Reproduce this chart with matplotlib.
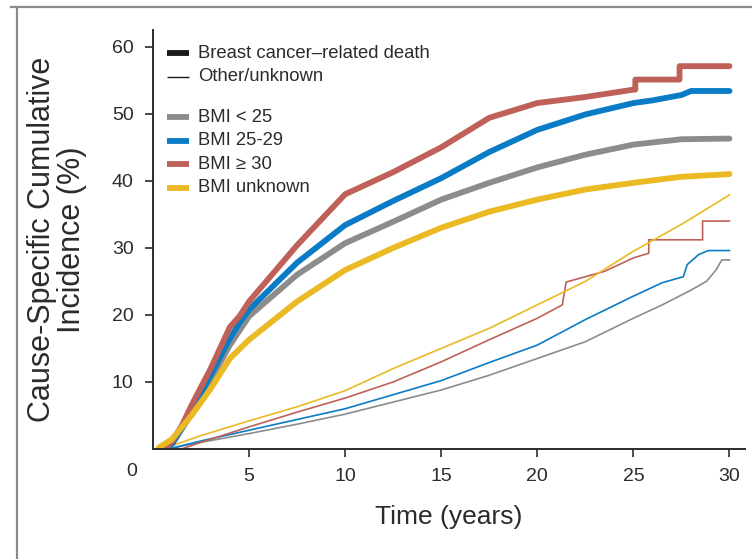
import matplotlib
matplotlib.use("Agg")
import matplotlib.pyplot as plt
from matplotlib.lines import Line2D

# ---------------- DATA ----------------
# thick lines: breast cancer-related death
t_bmi_lt25 = [0.6, 1, 2, 3, 4, 5, 7.5, 10, 12.5, 15, 17.5, 20, 22.5, 25, 27.5, 30]
v_bmi_lt25 = [0, 0.8, 5.2, 10.3, 15.5, 19.8, 26, 30.7, 33.9, 37.2, 39.7, 42, 43.9, 45.4, 46.2, 46.3]

t_bmi_2529 = [0.6, 1, 2, 3, 4, 4.5, 5, 7.5, 10, 12.5, 15, 17.5, 20, 22.5, 25, 26, 27.5, 28, 30]
v_bmi_2529 = [0, 0.8, 5.5, 11, 16.5, 18.8, 20.8, 27.8, 33.4, 37, 40.4, 44.3, 47.6, 49.9, 51.6, 52, 52.8, 53.4, 53.4]

t_bmi_ge30 = [0.6, 1, 1.5, 2, 3, 4, 4.5, 5, 7.5, 10, 12.5, 15, 17.5, 20, 22.5, 25, 25.1, 25.1, 27.4, 27.4, 30]
v_bmi_ge30 = [0, 1.2, 3.5, 6.5, 12, 18.2, 19.8, 22, 30.4, 38, 41.3, 45, 49.4, 51.6, 52.5, 53.6, 53.6, 55.1, 55.1, 57.1, 57.1]

t_bmi_unk = [0.3, 1, 2, 3, 4, 5, 7.5, 10, 12.5, 15, 17.5, 20, 22.5, 25, 27.5, 30]
v_bmi_unk = [0.2, 1.5, 5, 9, 13.5, 16.3, 22, 26.7, 30, 33, 35.4, 37.2, 38.7, 39.7, 40.6, 41]

# thin lines: other/unknown death
to_bmi_lt25 = [0.8, 2.5, 5, 7.5, 10, 12.5, 15, 17.5, 20, 22.5, 25, 26.5, 28, 28.8, 29.3, 29.6, 30]
vo_bmi_lt25 = [0, 1, 2.3, 3.7, 5.2, 7, 8.8, 11, 13.5, 16, 19.5, 21.5, 23.7, 25, 26.7, 28.2, 28.2]

to_bmi_2529 = [0.8, 2.5, 5, 7.5, 10, 12.5, 15, 17.5, 20, 22.5, 25, 26.5, 27.6, 27.8, 28.4, 28.9, 30]
vo_bmi_2529 = [0, 1.2, 2.8, 4.4, 6, 8.1, 10.2, 12.9, 15.5, 19.3, 22.8, 24.8, 25.7, 27.5, 29, 29.6, 29.6]

to_bmi_ge30 = [1.5, 2.5, 5, 7.5, 10, 12.5, 15, 17.5, 20, 21.3, 21.5, 23.5, 25, 25.8, 25.8, 28.6, 28.6, 30]
vo_bmi_ge30 = [0, 1, 3.3, 5.5, 7.6, 10, 13, 16.3, 19.5, 21.5, 24.9, 26.5, 28.5, 29.2, 31.2, 31.2, 34, 34]

to_bmi_unk = [0.5, 1, 2.5, 5, 7.5, 10, 12.5, 15, 17.5, 20, 22.5, 25, 27.5, 30]
vo_bmi_unk = [0, 0.5, 2, 4.2, 6.3, 8.7, 12, 15, 18, 21.5, 25, 29.5, 33.5, 37.9]

x_ticks = [5, 10, 15, 20, 25, 30]
y_ticks = [10, 20, 30, 40, 50, 60]

GREY = "#8c8c8c"
BLUE = "#0a7cc6"
RED = "#bf6158"
YELLOW = "#ebb924"

series = [
    ("BMI < 25", GREY, t_bmi_lt25, v_bmi_lt25, to_bmi_lt25, vo_bmi_lt25),
    ("BMI 25-29", BLUE, t_bmi_2529, v_bmi_2529, to_bmi_2529, vo_bmi_2529),
    ("BMI \u2265 30", RED, t_bmi_ge30, v_bmi_ge30, to_bmi_ge30, vo_bmi_ge30),
    ("BMI unknown", YELLOW, t_bmi_unk, v_bmi_unk, to_bmi_unk, vo_bmi_unk),
]

FONT = ["Liberation Sans", "DejaVu Sans"]
INK = "#2b2b2b"

fig = plt.figure(figsize=(7.52, 5.59), dpi=100)
ax = fig.add_axes([0.2035, 0.1968, 0.787, 0.7496])

# thin lines first, thick on top
for name, col, t, v, to, vo in series:
    ax.plot(to, vo, color=col, lw=1.2, solid_joinstyle="miter")
for name, col, t, v, to, vo in series:
    ax.plot(t, v, color=col, lw=4.2, solid_capstyle="round")

ax.set_xlim(0, 30.8)
ax.set_ylim(0, 62.5)
ax.set_xticks(x_ticks)
ax.set_yticks(y_ticks)
ax.set_xticklabels([str(x) for x in x_ticks], family=FONT, fontsize=14, color=INK)
ax.set_yticklabels([str(y) for y in y_ticks], family=FONT, fontsize=14, color=INK)
ax.tick_params(direction="out", length=6, width=1.2, color=INK, pad=8)
for side in ["top", "right"]:
    ax.spines[side].set_visible(False)
for side in ["left", "bottom"]:
    ax.spines[side].set_color(INK)
    ax.spines[side].set_linewidth(1.4)

ax.text(-1.1, -3.3, "0", transform=ax.transData, ha="center", va="center",
        family=FONT, fontsize=14, color=INK, clip_on=False)

ax.set_xlabel("Time (years)", family=FONT, fontsize=19, color=INK, labelpad=14)
ax.set_ylabel("Cause-Specific Cumulative\nIncidence (%)", family=FONT, fontsize=22,
              color=INK, labelpad=18, linespacing=1.0)

# ---- manual legend ----
leg_rows = [
    ("Breast cancer\u2013related death", "#1a1a1a", 4.2, 0.945),
    ("Other/unknown", "#1a1a1a", 1.0, 0.888),
]
for i, (name, col, *_rest) in enumerate(series):
    leg_rows.append((name, col, 4.2, 0.792 - i * 0.056))
for label, col, lw, yy in leg_rows:
    ax.add_line(Line2D([0.024, 0.061], [yy, yy], transform=ax.transAxes,
                       color=col, lw=lw, solid_capstyle="butt"))
    ax.text(0.076, yy, label, transform=ax.transAxes, va="center", ha="left",
            family=FONT, fontsize=13.3, color=INK)

# figure frame (top and left edges visible)
fig.add_artist(Line2D([0.015, 1.0], [0.987, 0.987], transform=fig.transFigure,
                      color="#8a8a8a", lw=1.6))
fig.add_artist(Line2D([0.0226, 0.0226], [0.0, 0.987], transform=fig.transFigure,
                      color="#8a8a8a", lw=1.6))

fig.savefig("out.png", dpi=100)
